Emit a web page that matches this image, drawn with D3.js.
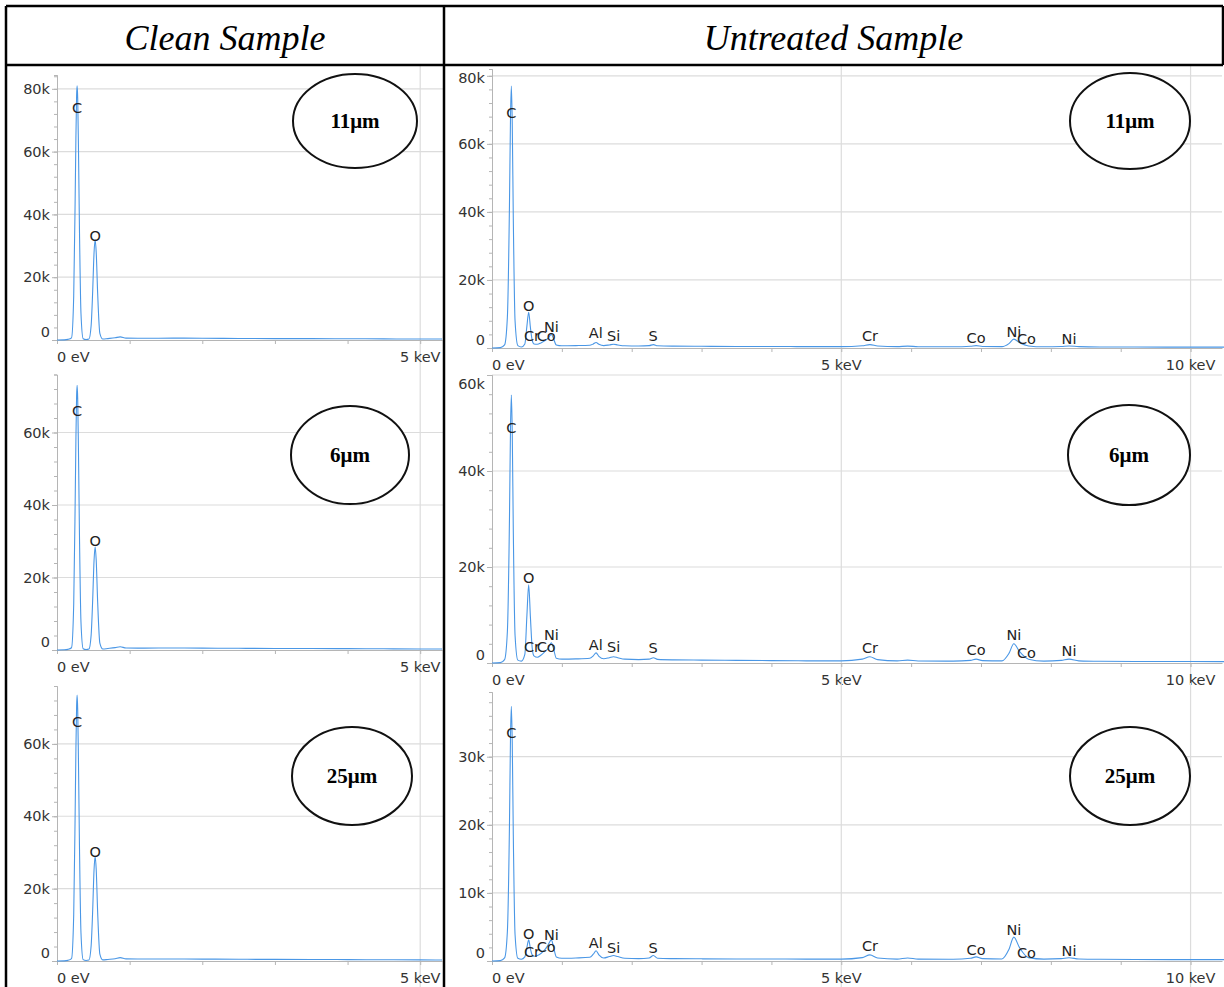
<!DOCTYPE html>
<html lang="en">
<head>
  <meta charset="UTF-8">
  <title>EDS spectra</title>
  <style>
    body { margin: 0; background: #fff; }
    svg { display: block; }
  </style>
</head>
<body>
  <script src="https://cdn.jsdelivr.net/npm/d3@7/dist/d3.min.js"></script>
  <script>
    // ---- data ----
    const columnTitles = ['Clean Sample', 'Untreated Sample'];
    const thicknessTags = ['11μm', '6μm', '25μm'];
    const xTickLabels = ['0 eV', '5 keV', '10 keV'];

    // clean sample spectra (keV, counts)
    const cleanEnergy = [0, 0.1, 0.15, 0.2, 0.23, 0.25, 0.26, 0.27, 0.277, 0.285, 0.295, 0.31, 0.33, 0.36, 0.4,
      0.44, 0.47, 0.49, 0.51, 0.525, 0.54, 0.56, 0.59, 0.63, 0.7, 0.8, 0.87, 0.95, 1.2, 1.6, 2.0, 2.5, 3.0, 3.5,
      4.0, 4.5, 5.0, 5.3];
    const clean11 = [0, 50, 200, 700, 14000, 45000, 64000, 78000, 81000, 77000, 62000, 34000, 8500, 400, 150,
      300, 4600, 14700, 27800, 32000, 27800, 14700, 2100, 300, 450, 700, 1000, 600, 550, 600, 550, 500, 450, 450,
      400, 350, 300, 300];
    const clean6 = [0, 50, 180, 630, 12600, 40500, 57600, 70200, 73000, 69300, 55800, 30600, 7700, 360, 140,
      270, 4100, 13100, 24700, 28500, 24700, 13100, 1900, 280, 420, 650, 900, 560, 520, 560, 520, 470, 430, 420,
      380, 330, 290, 280];
    const clean25 = [0, 40, 170, 650, 12800, 41000, 58000, 70500, 73500, 69500, 56000, 30800, 7800, 380, 150,
      280, 4200, 13300, 25200, 29000, 25200, 13300, 1900, 300, 430, 640, 920, 580, 540, 570, 530, 480, 440, 430,
      390, 340, 300, 290];
    const cleanPeakNames = ['C', 'O'];
    const cleanPeakEnergy = [0.277, 0.525];
    const clean11LabelY = [74000, 33000];
    const clean6LabelY = [66000, 30000];
    const clean25LabelY = [66000, 30000];
    const cleanYMax = [84400, 76000, 76000];
    const cleanYStep = [20000, 20000, 20000];

    // untreated sample spectra (keV, counts)
    const untreatedEnergy = [0, 0.12, 0.18, 0.22, 0.25, 0.265, 0.277, 0.29, 0.305, 0.33, 0.37, 0.42, 0.47, 0.5,
      0.525, 0.55, 0.575, 0.6, 0.65, 0.7, 0.76, 0.8, 0.85, 0.88, 0.92, 1.0, 1.2, 1.4, 1.45, 1.49, 1.53, 1.6, 1.68,
      1.74, 1.8, 1.9, 2.1, 2.25, 2.31, 2.37, 2.6, 3.0, 3.5, 4.0, 4.5, 5.0, 5.3, 5.41, 5.52, 5.8, 5.95, 6.1, 6.6,
      6.85, 6.93, 7.02, 7.3, 7.4, 7.47, 7.55, 7.68, 7.9, 8.15, 8.26, 8.4, 8.7, 9.2, 10, 10.5];
    const untreated11 = [0, 100, 900, 9000, 42000, 68000, 77000, 66000, 38000, 8000, 700, 300, 1200, 6500,
      10500, 6000, 2300, 1200, 1100, 1500, 2200, 2800, 4000, 2800, 900, 650, 700, 800, 1200, 1600, 1100, 700, 900,
      1100, 900, 650, 600, 700, 1000, 650, 550, 500, 450, 450, 400, 400, 650, 1000, 600, 400, 550, 380, 350,
      500, 700, 450, 400, 1300, 2600, 1600, 600, 350, 450, 600, 400, 300, 280, 250, 250];
    const untreated6 = [0, 80, 700, 6500, 30000, 49000, 55800, 48000, 27500, 5800, 600, 400, 1800, 10000,
      16300, 9500, 3200, 1500, 1200, 1600, 2400, 3000, 4200, 3000, 1000, 800, 850, 1000, 1500, 2100, 1400, 900, 1100,
      1300, 1100, 800, 700, 800, 1100, 750, 650, 600, 550, 500, 450, 450, 800, 1300, 700, 450, 600, 420, 400,
      550, 800, 500, 450, 2000, 4000, 2400, 800, 400, 550, 800, 450, 350, 320, 300, 280];
    const untreated25 = [0, 50, 450, 4300, 20000, 33000, 37400, 32000, 18500, 3900, 400, 250, 600, 2000,
      3100, 1800, 900, 700, 800, 1100, 1700, 2300, 3100, 2100, 600, 400, 450, 550, 1000, 1500, 900, 450, 650,
      800, 650, 400, 350, 450, 800, 400, 350, 320, 300, 300, 280, 280, 500, 900, 450, 280, 450, 280, 260,
      400, 600, 350, 300, 1700, 3500, 2000, 500, 280, 350, 480, 300, 250, 230, 200, 200];
    const untreatedPeakNames = ['C', 'O', 'Cr', 'Co', 'Ni', 'Al', 'Si', 'S', 'Cr', 'Co', 'Ni', 'Co', 'Ni'];
    const untreatedPeakEnergy = [0.277, 0.525, 0.573, 0.776, 0.851, 1.486, 1.74, 2.307, 5.41, 6.93, 7.47, 7.65, 8.26];
    const untreated11LabelY = [69000, 12400, 3500, 3500, 6200, 4400, 3500, 3500, 3500, 3000, 4700, 2600, 2600];
    const untreated6LabelY = [49000, 17700, 3300, 3300, 5800, 3700, 3300, 3100, 3100, 2700, 5800, 2000, 2500];
    const untreated25LabelY = [33500, 4000, 1300, 2000, 3800, 2600, 1900, 1900, 2200, 1600, 4600, 1200, 1500];
    const untreatedYMax = [82000, 60000, 39500];
    const untreatedYStep = [20000, 20000, 10000];

    // ---- layout ----
    const W = 1224, H = 987;
    const rows = [[66, 372], [372, 683], [683, 987]];
    const panels = [
      {left: 6, right: 444, x0: 57, xEnd: 442, xMax: 5.3,
        tops: [75, 374.5, 686], bases: [340, 650, 961],
        ellipses: [[355, 121, 62, 47], [350, 455, 59, 49], [352, 776, 60, 49]]},
      {left: 444, right: 1223, x0: 492, xEnd: 1222, xMax: 10.45,
        tops: [69, 375, 692], bases: [348, 663, 961],
        ellipses: [[1130, 121, 60, 48], [1129, 455, 61, 50], [1130, 776, 60, 49]]}
    ];

    const svg = d3.select('body').append('svg')
      .attr('width', W)
      .attr('height', H);

    const fmtK = d => d === 0 ? '0' : (d / 1000) + 'k';
    const axisFont = '14.5px "DejaVu Sans", sans-serif';

    function renderSpectrum(panel, r, spec) {
      const top = panel.tops[r], base = panel.bases[r];
      const x = d3.scaleLinear().domain([0, panel.xMax]).range([panel.x0, panel.xEnd]);
      const y = d3.scaleLinear().domain([0, spec.yMax]).range([base, top]);
      const g = svg.append('g').attr('class', 'spectrum');

      const majors = d3.range(0, spec.yMax + 1, spec.yStep);
      const minors = d3.range(0, spec.yMax + 1, spec.yStep / 5);

      // grid
      g.selectAll('line.hgrid').data(majors.filter(d => d > 0)).join('line')
        .attr('class', 'hgrid')
        .attr('x1', panel.x0).attr('x2', panel.right - 1)
        .attr('y1', d => y(d)).attr('y2', d => y(d))
        .attr('stroke', '#dcdcdc').attr('stroke-width', 1.2);
      g.selectAll('line.vgrid').data(d3.range(5, panel.xMax, 5)).join('line')
        .attr('class', 'vgrid')
        .attr('x1', d => x(d)).attr('x2', d => x(d))
        .attr('y1', rows[r][0]).attr('y2', rows[r][1])
        .attr('stroke', '#dcdcdc').attr('stroke-width', 1.2);

      // y axis: minor ticks, then majors with labels
      g.append('g').attr('transform', `translate(${panel.x0},0)`)
        .call(d3.axisLeft(y).tickValues(minors).tickSize(3).tickFormat(''))
        .call(a => a.selectAll('line, path').attr('stroke', '#b5b5b5'));
      const yAxis = g.append('g').attr('transform', `translate(${panel.x0},0)`)
        .call(d3.axisLeft(y).tickValues(majors).tickSizeInner(5).tickSizeOuter(0).tickPadding(2).tickFormat(fmtK));
      yAxis.selectAll('line, path').attr('stroke', '#b5b5b5');
      yAxis.selectAll('text')
        .attr('fill', '#333')
        .style('font', axisFont)
        .attr('transform', d => {
          const py = y(d);
          const cy = Math.min(Math.max(py, top + 9), base - 8);
          return `translate(0,${cy - py})`;
        });

      // x axis
      g.append('g').attr('transform', `translate(0,${base})`)
        .call(d3.axisBottom(x).tickValues(d3.range(0, panel.xMax, 1)).tickSizeInner(4).tickSizeOuter(0).tickFormat(''))
        .call(a => a.selectAll('line, path').attr('stroke', '#b5b5b5'));
      g.selectAll('text.xlab').data(d3.range(0, panel.xMax, 5)).join('text')
        .attr('class', 'xlab')
        .attr('x', d => x(d))
        .attr('y', base + 17)
        .attr('dominant-baseline', 'central')
        .attr('text-anchor', d => d === 0 ? 'start' : 'middle')
        .attr('fill', '#333')
        .style('font', axisFont)
        .text((d, i) => xTickLabels[i]);

      // trace
      const line = d3.line()
        .x(d => x(d[0]))
        .y(d => y(d[1]))
        .curve(d3.curveMonotoneX);
      g.append('path')
        .datum(d3.zip(spec.energy, spec.counts))
        .attr('d', line)
        .attr('fill', 'none')
        .attr('stroke', '#4a97e6')
        .attr('stroke-width', 1.1);

      // peak labels
      g.selectAll('text.peak').data(spec.names).join('text')
        .attr('class', 'peak')
        .attr('x', (d, i) => x(spec.peakE[i]))
        .attr('y', (d, i) => y(spec.labelY[i]))
        .attr('dominant-baseline', 'central')
        .attr('text-anchor', 'middle')
        .attr('fill', '#222')
        .style('font', '14.5px "DejaVu Sans", sans-serif')
        .text(d => d);

      // thickness tag
      const [ex, ey, erx, ery] = panel.ellipses[r];
      g.append('ellipse')
        .attr('cx', ex).attr('cy', ey).attr('rx', erx).attr('ry', ery)
        .attr('fill', '#fff').attr('stroke', '#111').attr('stroke-width', 2);
      g.append('text')
        .attr('x', ex).attr('y', ey)
        .attr('dominant-baseline', 'central')
        .attr('text-anchor', 'middle')
        .style('font', 'bold 21px "Liberation Serif", "Times New Roman", serif')
        .text(thicknessTags[r]);
    }

    const cleanSpecs = [
      {energy: cleanEnergy, counts: clean11, labelY: clean11LabelY},
      {energy: cleanEnergy, counts: clean6, labelY: clean6LabelY},
      {energy: cleanEnergy, counts: clean25, labelY: clean25LabelY}
    ].map((s, i) => Object.assign(s, {names: cleanPeakNames, peakE: cleanPeakEnergy,
      yMax: cleanYMax[i], yStep: cleanYStep[i]}));
    const untreatedSpecs = [
      {energy: untreatedEnergy, counts: untreated11, labelY: untreated11LabelY},
      {energy: untreatedEnergy, counts: untreated6, labelY: untreated6LabelY},
      {energy: untreatedEnergy, counts: untreated25, labelY: untreated25LabelY}
    ].map((s, i) => Object.assign(s, {names: untreatedPeakNames, peakE: untreatedPeakEnergy,
      yMax: untreatedYMax[i], yStep: untreatedYStep[i]}));

    cleanSpecs.forEach((s, r) => renderSpectrum(panels[0], r, s));
    untreatedSpecs.forEach((s, r) => renderSpectrum(panels[1], r, s));

    // table frame and column headers
    const frame = svg.append('g').attr('stroke', '#000').attr('stroke-width', 2.5);
    frame.append('line').attr('x1', 6).attr('x2', 1223).attr('y1', 6).attr('y2', 6);
    frame.append('line').attr('x1', 6).attr('x2', 1223).attr('y1', 65).attr('y2', 65);
    frame.append('line').attr('x1', 6).attr('x2', 6).attr('y1', 6).attr('y2', H);
    frame.append('line').attr('x1', 444).attr('x2', 444).attr('y1', 6).attr('y2', H);
    frame.append('line').attr('x1', 1223).attr('x2', 1223).attr('y1', 6).attr('y2', 65);

    svg.selectAll('text.title').data(columnTitles).join('text')
      .attr('class', 'title')
      .attr('x', (d, i) => (panels[i].left + panels[i].right) / 2)
      .attr('y', 50)
      .attr('text-anchor', 'middle')
      .style('font', 'italic 36px "Liberation Serif", "Times New Roman", serif')
      .text(d => d);
  </script>
</body>
</html>
